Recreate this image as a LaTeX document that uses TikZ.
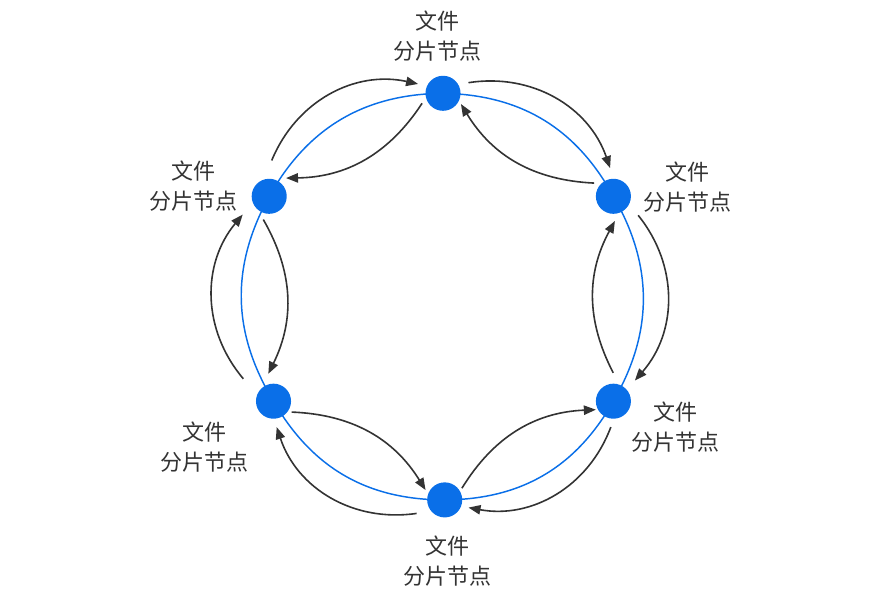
\documentclass[tikz,border=0pt]{standalone}
\usepackage{fontspec}
\usepackage{tikz}
\usetikzlibrary{arrows.meta}
\newfontfamily\cjkfont{Noto Sans CJK SC}
\definecolor{shardblue}{HTML}{0A6FE8}
\definecolor{inkgray}{HTML}{333333}
\tikzset{
  shard/.style={circle, fill=shardblue, minimum size=26.3pt, inner sep=0pt, outer sep=0pt},
  shardlbl/.style={align=center, inner sep=0pt, text=inkgray,
    font=\cjkfont\fontsize{16.5pt}{22.5pt}\selectfont},
  ring/.style={draw=shardblue, line width=1.1pt},
  arr/.style={-{Triangle[length=9pt, width=7pt]}, line width=1.2pt, draw=inkgray},
}

\begin{document}
\begin{tikzpicture}[x=0.75pt, y=0.75pt]
    \useasboundingbox (0,0) rectangle (880,602);
    % shard nodes
    \node[shard] (top) at (443,508.7) {};
    \node[shard] (ur) at (613.4,405.7) {};
    \node[shard] (lr) at (613.4,200.8) {};
    \node[shard] (bot) at (444.7,102.1) {};
    \node[shard] (ll) at (273.5,200.8) {};
    \node[shard] (ul) at (269.2,405.7) {};
    % labels
    \node[shardlbl] (toplbl) at (437.5,566.2) {文件\\分片节点};
    \node[shardlbl] (urlbl) at (687.5,415) {文件\\分片节点};
    \node[shardlbl] (lrlbl) at (675.8,175) {文件\\分片节点};
    \node[shardlbl] (botlbl) at (447.5,41) {文件\\分片节点};
    \node[shardlbl] (lllbl) at (204.7,155) {文件\\分片节点};
    \node[shardlbl] (ullbl) at (193.3,416) {文件\\分片节点};
    % ring
    \draw[ring] (top.center) to[bend left=30] (ur.center) to[bend left=30] (lr.center)
      to[bend left=30] (bot.center) to[bend left=30] (ll.center)
      to[bend left=30] (ul.center) to[bend left=30] (top.center);
    % outer arrows, clockwise
    \draw[arr] ([shift={(86:35.9)}]ul.center) to[bend left=40] ([shift={(159.5:26.6)}]top.center);
    \draw[arr] ([shift={(22.6:27.6)}]top.center) to[bend left=40] ([shift={(96.7:28.4)}]ur.center);
    \draw[arr] ([shift={(-37.5:31.2)}]ur.center) to[bend left=40] ([shift={(43.9:29.8)}]lr.center);
    \draw[arr] ([shift={(264.3:26)}]lr.center) to[bend left=40] ([shift={(-17.9:25)}]bot.center);
    \draw[arr] ([shift={(205.7:31.2)}]bot.center) to[bend left=40] ([shift={(277:26.1)}]ll.center);
    \draw[arr] ([shift={(143.4:37.6)}]ll.center) to[bend left=40] ([shift={(214.6:32.2)}]ul.center);
    % inner arrows, counterclockwise
    \draw[arr] ([shift={(205.6:23.2)}]top.center) to[bend left=28] ([shift={(47.3:24.8)}]ul.center);
    \draw[arr] ([shift={(145.6:23.4)}]ur.center) to[bend left=28] ([shift={(-30.9:20.9)}]top.center);
    \draw[arr] ([shift={(90.4:28.4)}]lr.center) to[bend left=28] ([shift={(273.5:24.7)}]ur.center);
    \draw[arr] ([shift={(34.2:20.8)}]bot.center) to[bend left=28] ([shift={(205.8:19.5)}]lr.center);
    \draw[arr] ([shift={(-30.9:21.2)}]ll.center) to[bend left=28] ([shift={(152.8:21.5)}]bot.center);
    \draw[arr] ([shift={(255.8:24)}]ul.center) to[bend left=28] ([shift={(100.7:27.9)}]ll.center);
\end{tikzpicture}
\end{document}
